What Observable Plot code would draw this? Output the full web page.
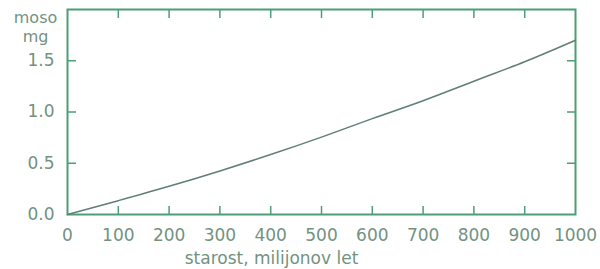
<!DOCTYPE html>
<html>
<head>
<meta charset="utf-8">
<script src="https://cdn.jsdelivr.net/npm/d3@7"></script>
<script src="https://cdn.jsdelivr.net/npm/@observablehq/plot@0.6"></script>
<style>
  html, body { margin: 0; padding: 0; background: #fff; }
</style>
</head>
<body>
<div id="chart"></div>
<script>
const ageMy = [0, 100, 200, 300, 400, 500, 600, 700, 800, 900, 1000];
const massMg = [0, 0.135, 0.275, 0.425, 0.585, 0.755, 0.935, 1.11, 1.30, 1.49, 1.70];
const xTicks = [0, 100, 200, 300, 400, 500, 600, 700, 800, 900, 1000];
const yTicks = [0, 0.5, 1.0, 1.5];
const yLabel = "moso\nmg";
const xLabel = "starost, milijonov let";

const data = ageMy.map((a, i) => ({age: a, mass: massMg[i]}));
const frameColor = "#4c9e77";
const textColor = "#72927f";
const lineColor = "#607f72";

const chart = Plot.plot({
  width: 600,
  height: 269,
  marginTop: 9,
  marginRight: 25,
  marginBottom: 55,
  marginLeft: 67,
  style: {background: "#fff", fontFamily: "DejaVu Sans", fontSize: "17px", color: textColor},
  x: {domain: [0, 1000]},
  y: {domain: [0, 2]},
  marks: [
    Plot.axisX(xTicks, {anchor: "bottom", tickSize: 0, tickPadding: 14, fill: textColor, tickFormat: d3.format("d"), label: null}),
    Plot.axisX(xTicks.slice(1, -1), {anchor: "bottom", tickSize: -8, text: null, stroke: frameColor, strokeWidth: 1.5, label: null}),
    Plot.axisX(xTicks.slice(1, -1), {anchor: "top", tickSize: -8, text: null, stroke: frameColor, strokeWidth: 1.5, label: null}),
    Plot.axisY(yTicks, {anchor: "left", tickSize: 0, tickPadding: 13, fill: textColor, tickFormat: d3.format(".1f"), label: null}),
    Plot.axisY(yTicks.slice(1), {anchor: "left", tickSize: -9, text: null, stroke: frameColor, strokeWidth: 1.5, label: null}),
    Plot.axisY(yTicks.slice(1), {anchor: "right", tickSize: -9, text: null, stroke: frameColor, strokeWidth: 1.5, label: null}),
    Plot.frame({stroke: frameColor, strokeWidth: 2}),
    Plot.line(data, {x: "age", y: "mass", stroke: lineColor, strokeWidth: 1.5, curve: "monotone-x"}),
    Plot.text([yLabel], {frameAnchor: "top-left", dx: -32, dy: 0, textAnchor: "middle", lineAnchor: "top", lineHeight: 1.2, fontSize: 16, fill: textColor, style: {letterSpacing: "1.5px"}}),
    Plot.text([xLabel], {frameAnchor: "bottom", dx: -50, dy: 49, fill: textColor})
  ]
});
document.getElementById("chart").append(chart);
</script>
</body>
</html>
